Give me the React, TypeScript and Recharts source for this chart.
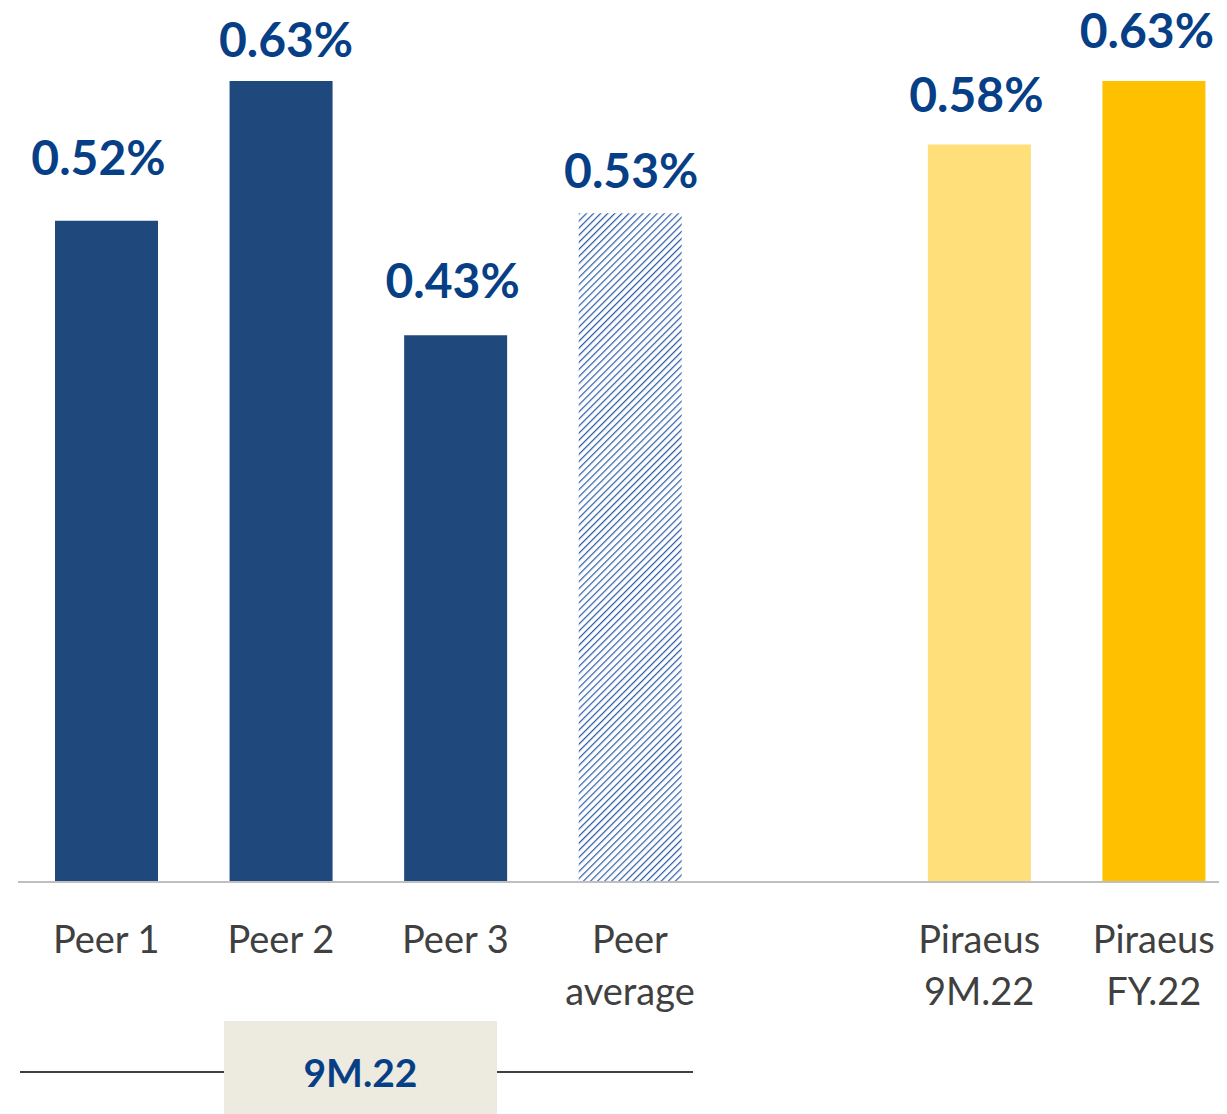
import { BarChart, Bar, XAxis, YAxis, Cell, LabelList } from 'recharts';

const categories = ['Peer 1', 'Peer 2', 'Peer 3', 'Peer\naverage', ' ', 'Piraeus\n9M.22', 'Piraeus\nFY.22'];
const values = [0.52, 0.63, 0.43, 0.526, null, 0.58, 0.63];
const fills = ['#1F497D', '#1F497D', '#1F497D', 'url(#hatch)', 'none', '#FFDF79', '#FFC000'];
// label placement relative to the bar top (as in the source slide)
const labelGaps = [46, 24, 37, 25, 0, 33, 33];
const labelShifts = [-8, 5, -3, 1, 0, -3, -7];

const data = categories.map((name, i) => ({ name, value: values[i] }));

const FONT = 'Lato, "Open Sans", sans-serif';
const BLUE = '#073F87';

const Tick = (props: any) => {
  const { x, y, payload } = props;
  const lines = String(payload.value).split('\n');
  return (
    <text x={x} y={y} textAnchor="middle" fill="#404040" fontFamily={FONT} fontSize={38}>
      {lines.map((l, i) => (
        <tspan key={i} x={x} y={y + 69 + i * 52}>
          {l}
        </tspan>
      ))}
    </text>
  );
};

const ValueLabel = (props: any) => {
  const { x, y, width, value } = props;
  const idx = categories.indexOf(value);
  if (idx < 0 || values[idx] == null) return null;
  return (
    <text
      x={x + width / 2 + labelShifts[idx]}
      y={y - labelGaps[idx]}
      textAnchor="middle"
      fill={BLUE}
      fontFamily={FONT}
      fontWeight={700}
      fontSize={48}
    >
      {Number(values[idx]).toFixed(2)}%
    </text>
  );
};

export default function App() {
  return (
    <div style={{ position: 'relative', margin: '-8px 0 0 -8px', width: 1227, height: 1114, overflow: 'hidden' }}>
      <BarChart width={1227} height={1048} data={data} margin={{ top: 81, right: 0, left: 18, bottom: 0 }}>
        <defs>
          <pattern id="hatch" patternUnits="userSpaceOnUse" width={5} height={5} patternTransform="rotate(45)">
            <rect width={5} height={5} fill="#ffffff" />
            <line x1={0} y1={0} x2={0} y2={5} stroke="#2B5BA8" strokeWidth={2.4} />
          </pattern>
        </defs>
        <XAxis
          dataKey="name"
          interval={0}
          tick={<Tick />}
          tickLine={false}
          tickSize={0}
          height={166}
          padding={{ left: 1, right: -14 }}
          axisLine={{ stroke: '#BFBFBF', strokeWidth: 2 }}
        />
        <YAxis hide domain={[0, 0.63]} />
        <Bar dataKey="value" barSize={103} isAnimationActive={false}>
          {data.map((d, i) => (
            <Cell key={d.name} fill={fills[i]} />
          ))}
          <LabelList dataKey="name" content={<ValueLabel />} />
        </Bar>
      </BarChart>
      <div style={{ position: 'absolute', left: 20, top: 1071, width: 204, height: 2, background: '#404040' }} />
      <div style={{ position: 'absolute', left: 497, top: 1071, width: 196, height: 2, background: '#404040' }} />
      <div
        style={{
          position: 'absolute',
          left: 224,
          top: 1021,
          width: 273,
          height: 93,
          paddingTop: 8,
          boxSizing: 'border-box',
          background: '#EDEBE0',
          display: 'flex',
          alignItems: 'center',
          justifyContent: 'center',
          color: BLUE,
          fontFamily: FONT,
          fontWeight: 700,
          fontSize: 39,
        }}
      >
        9M.22
      </div>
    </div>
  );
}
